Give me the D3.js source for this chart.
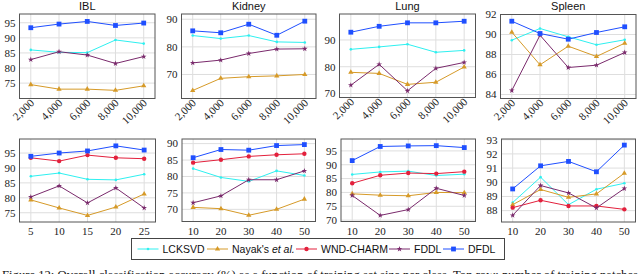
<!DOCTYPE html>
<html>
<head>
<meta charset="utf-8">
<script src="https://cdn.jsdelivr.net/npm/d3@7"></script>
<style>
  body { margin: 0; background: #fff; }
  svg { display: block; }
</style>
</head>
<body>
<div id="wrapper"></div>
<script>
// panel titles and x values
const datasets = ["IBL", "Kidney", "Lung", "Spleen"];
const topX = [2000, 4000, 6000, 8000, 10000];
const bottomXIBL = [5, 10, 15, 20, 25];
const bottomX = [10, 20, 30, 40, 50];

// y tick labels per panel
const topYTicks = [[75, 80, 85, 90, 95], [70, 80, 90], [70, 80, 90], [84, 86, 88, 90, 92]];
const bottomYTicks = [[75, 80, 85, 90, 95], [70, 75, 80, 85, 90], [70, 75, 80, 85, 90, 95], [88, 89, 90, 91, 92, 93]];

// top row values (one list per dataset: IBL, Kidney, Lung, Spleen)
const lcksvdTop = [
    [86.0, 85.2, 85.1, 89.3, 88.1],
    [84.1, 83.0, 84.1, 81.8, 81.6],
    [86.5, 87.4, 88.4, 85.4, 86.1],
    [89.43, 90.6, 89.77, 88.97, 89.47]
];
const nayakTop = [
    [74.5, 73.0, 73.0, 72.6, 74.1],
    [64.2, 68.6, 69.2, 69.5, 70.0],
    [77.9, 77.5, 73.4, 74.2, 79.9],
    [90.23, 86.97, 88.83, 87.8, 89.13]
];
const fddlTop = [
    [82.8, 85.4, 84.3, 81.5, 83.8],
    [74.2, 75.2, 77.6, 79.2, 79.3],
    [73.1, 80.9, 71.0, 79.4, 81.6],
    [84.4, 89.93, 86.7, 86.93, 88.2]
];
const dfdlTop = [
    [93.35, 94.56, 95.44, 94.1, 94.9],
    [85.8, 85.1, 88.2, 84.2, 89.3],
    [92.9, 95.1, 96.4, 96.4, 97.0],
    [91.33, 90.1, 89.53, 90.2, 90.77]
];

// bottom row values
const lcksvdBottom = [
    [87.2, 88.3, 86.2, 86.0, 87.9],
    [82.4, 79.7, 78.5, 81.7, 80.3],
    [86.5, 87.4, 87.7, 86.1, 86.6],
    [88.57, 90.36, 88.42, 89.51, 89.93]
];
const nayakBottom = [
    [79.3, 76.6, 74.1, 76.9, 81.3],
    [70.6, 70.2, 68.2, 70.0, 73.1],
    [79.5, 79.0, 78.8, 80.0, 79.9],
    [88.42, 89.49, 88.94, 89.18, 90.64]
];
const wndBottom = [
    [93.4, 92.3, 94.3, 93.4, 93.1],
    [84.2, 85.1, 86.1, 86.6, 86.9],
    [83.3, 86.2, 87.0, 86.8, 87.5],
    [88.21, 88.73, 88.33, 88.33, 88.09]
];
const fddlBottom = [
    [80.3, 84.0, 78.3, 83.3, 76.6],
    [72.0, 74.1, 79.0, 79.0, 81.7],
    [78.9, 71.7, 73.8, 81.5, 78.9],
    [87.67, 89.77, 89.25, 88.19, 89.56]
];
const dfdlBottom = [
    [93.9, 95.0, 95.7, 97.4, 96.0],
    [85.7, 88.2, 88.0, 89.4, 89.7],
    [91.5, 96.6, 96.8, 96.9, 96.2],
    [89.53, 91.16, 91.47, 90.74, 92.62]
];

const methods = [
    {name: "LCKSVD", color: "#2ef0f0", symbol: "dot"},
    {name: "Nayak", color: "#d69a28", symbol: "triangle"},
    {name: "WND-CHARM", color: "#e3203c", symbol: "circle"},
    {name: "FDDL", color: "#7a2a6c", symbol: "star"},
    {name: "DFDL", color: "#1f4fff", symbol: "square"}
];

const W = 640, H = 274;
const svg = d3.select("#wrapper").append("svg")
    .attr("width", W).attr("height", H);

// panel frames (pixels) and domains
const topPanels = [
    {x0: 19.5, x1: 155, y0: 14, y1: 98.5, yd: [69.9, 97.9]},
    {x0: 181.5, x1: 316, y0: 14, y1: 98.5, yd: [61.3, 91.9]},
    {x0: 339.5, x1: 475.5, y0: 14, y1: 97.5, yd: [68.5, 99.7]},
    {x0: 500.5, x1: 636, y0: 14.5, y1: 98.5, yd: [83.6, 92.0]}
];
const bottomPanels = [
    {x0: 19.5, x1: 155.5, y0: 139, y1: 222, yd: [71.9, 99.7]},
    {x0: 182, x1: 315.5, y0: 139, y1: 221.5, yd: [66.3, 91.4]},
    {x0: 341, x1: 475.5, y0: 139, y1: 221.5, yd: [69.5, 99.3]},
    {x0: 501.5, x1: 635.5, y0: 139, y1: 222, yd: [87.2, 93.05]}
];

function drawMarker(g, sym, color, x, y) {
    if (sym === "dot") {
        g.append("circle").attr("cx", x).attr("cy", y).attr("r", 1.3).attr("fill", color);
    } else if (sym === "circle") {
        g.append("circle").attr("cx", x).attr("cy", y).attr("r", 2.2).attr("fill", color);
    } else if (sym === "square") {
        g.append("rect").attr("x", x - 2.4).attr("y", y - 2.4).attr("width", 4.8).attr("height", 4.8).attr("fill", color);
    } else if (sym === "triangle") {
        g.append("path").attr("transform", `translate(${x},${y})`)
            .attr("d", d3.symbol(d3.symbolTriangle, 12)()).attr("fill", color);
    } else if (sym === "star") {
        g.append("path").attr("transform", `translate(${x},${y})`)
            .attr("d", d3.symbol(d3.symbolStar, 10)()).attr("fill", color);
    }
}

function drawPanel(p, xs, xDomain, yTicks, series, rotated, title) {
    const x = d3.scaleLinear().domain(xDomain).range([p.x0, p.x1]);
    const y = d3.scaleLinear().domain(p.yd).range([p.y1, p.y0]);
    const g = svg.append("g");

    // grid
    g.selectAll(".gx").data(xs).join("line")
        .attr("x1", d => x(d)).attr("x2", d => x(d))
        .attr("y1", p.y0).attr("y2", p.y1)
        .attr("stroke", "#dedede").attr("stroke-width", 1);
    g.selectAll(".gy").data(yTicks).join("line")
        .attr("x1", p.x0).attr("x2", p.x1)
        .attr("y1", d => y(d)).attr("y2", d => y(d))
        .attr("stroke", "#dedede").attr("stroke-width", 1);

    // y tick labels
    g.selectAll(".yl").data(yTicks).join("text")
        .attr("x", p.x0 - 4).attr("y", d => y(d)).attr("dy", "0.35em")
        .attr("text-anchor", "end")
        .style("font-family", "'Liberation Serif', serif").style("font-size", "11px")
        .attr("fill", "#222")
        .text(d => d);

    // x tick labels
    if (rotated) {
        g.selectAll(".xl").data(xs).join("text")
            .attr("transform", d => `translate(${x(d) + 4},${p.y1 + 5}) rotate(-45)`)
            .attr("text-anchor", "end")
            .style("font-family", "'Liberation Serif', serif").style("font-size", "11px")
            .attr("fill", "#222")
            .text(d => d3.format(",")(d));
    } else {
        g.selectAll(".xl").data(xs).join("text")
            .attr("x", d => x(d)).attr("y", p.y1 + 13)
            .attr("text-anchor", "middle")
            .style("font-family", "'Liberation Serif', serif").style("font-size", "11px")
            .attr("fill", "#222")
            .text(d => d);
    }

    // lines + markers
    const line = d3.line().x((d, i) => x(xs[i])).y(d => y(d));
    series.forEach(s => {
        if (!s.values) return;
        g.append("path").attr("d", line(s.values))
            .attr("fill", "none").attr("stroke", s.method.color).attr("stroke-width", 1);
        s.values.forEach((v, i) => drawMarker(g, s.method.symbol, s.method.color, x(xs[i]), y(v)));
    });

    // frame
    g.append("rect").attr("x", p.x0).attr("y", p.y0)
        .attr("width", p.x1 - p.x0).attr("height", p.y1 - p.y0)
        .attr("fill", "none").attr("stroke", "#555").attr("stroke-width", 1);

    if (title) {
        g.append("text").attr("x", (p.x0 + p.x1) / 2).attr("y", 10)
            .attr("text-anchor", "middle")
            .style("font-family", "'Liberation Sans', sans-serif").style("font-size", "11px")
            .attr("fill", "#111")
            .text(title);
    }
}

datasets.forEach((name, k) => {
    drawPanel(topPanels[k], topX, [1200, 10800], topYTicks[k], [
        {method: methods[0], values: lcksvdTop[k]},
        {method: methods[1], values: nayakTop[k]},
        {method: methods[3], values: fddlTop[k]},
        {method: methods[4], values: dfdlTop[k]}
    ], true, name);

    const bx = k === 0 ? bottomXIBL : bottomX;
    const bd = k === 0 ? [3, 27] : [6, 54];
    drawPanel(bottomPanels[k], bx, bd, bottomYTicks[k], [
        {method: methods[0], values: lcksvdBottom[k]},
        {method: methods[1], values: nayakBottom[k]},
        {method: methods[2], values: wndBottom[k]},
        {method: methods[3], values: fddlBottom[k]},
        {method: methods[4], values: dfdlBottom[k]}
    ], false, null);
});

// legend
const legend = svg.append("g");
legend.append("rect").attr("x", 131.5).attr("y", 238.5).attr("width", 373).attr("height", 21)
    .attr("fill", "#fff").attr("stroke", "#444").attr("stroke-width", 1);
const legendX = [137.5, 207, 296, 389, 443];
methods.forEach((m, i) => {
    const lx = legendX[i], ly = 249;
    legend.append("line").attr("x1", lx).attr("x2", lx + 21).attr("y1", ly).attr("y2", ly)
        .attr("stroke", m.color).attr("stroke-width", 1);
    drawMarker(legend, m.symbol, m.color, lx + 10.5, ly);
    const t = legend.append("text").attr("x", lx + 25).attr("y", ly).attr("dy", "0.35em")
        .style("font-family", "'Liberation Sans', sans-serif").style("font-size", "10.5px")
        .attr("fill", "#111");
    if (m.name === "Nayak") {
        t.append("tspan").text("Nayak's ");
        t.append("tspan").style("font-style", "italic").text("et al.");
    } else {
        t.text(m.name);
    }
});

// caption (cut off at bottom of picture)
svg.append("text").attr("x", 2).attr("y", 278.5)
    .attr("textLength", 636).attr("lengthAdjust", "spacingAndGlyphs")
    .style("font-family", "'Liberation Serif', serif").style("font-size", "12px")
    .attr("fill", "#111")
    .text("Figure 12: Overall classification accuracy (%) as a function of training set size per class. Top row: number of training patches");
</script>
</body>
</html>
